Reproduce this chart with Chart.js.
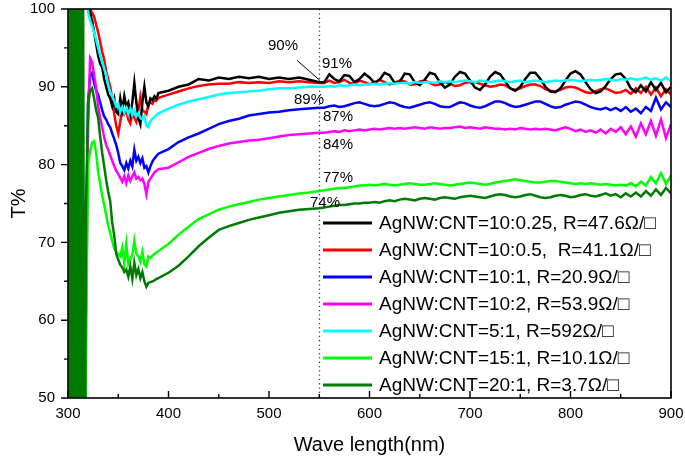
<!DOCTYPE html>
<html lang="en">
<head>
  <meta charset="UTF-8">
  <title>Transmittance</title>
  <script src="https://cdn.jsdelivr.net/npm/chart.js"></script>
  <style>
    body { margin: 0; background: #fff; }
    #chart { display: block; }
  </style>
</head>
<body>
  <canvas id="chart" width="685" height="458"></canvas>

<script>
// wavelength grid (nm) shared by all series
const waveNm = [
  317, 318, 320, 322, 324, 326, 328, 330, 332, 334, 336, 338, 340, 342, 344, 346, 348, 350, 352, 354,
  356, 358, 360, 362, 364, 366, 368, 370, 372, 374, 376, 378, 380, 382, 384, 386, 388, 390,
  400, 410, 420, 430, 440, 450, 460, 470, 480, 490, 500, 510, 520, 530, 540, 550,
  555, 560, 565, 570, 575, 580, 585, 590, 595, 600, 605, 610, 615, 620, 625, 630, 635, 640, 645, 650,
  655, 660, 665, 670, 675, 680, 685, 690, 695, 700, 705, 710, 715, 720, 725, 730, 735, 740, 745, 750,
  755, 760, 765, 770, 775, 780, 785, 790, 795, 800, 805, 810, 815, 820, 825, 830, 835, 840, 845, 850,
  855, 860, 865, 870, 875, 880, 885, 890, 895, 900
];

const tBlack = [
  105, 104, 101, 99.5, 98.5, 97, 95.5, 94, 93, 92.5, 91, 90, 89, 88.5, 87.5, 88.5, 86.8, 86.5, 88.5, 87,
  88.8, 87.5, 88, 86.5, 88, 90.5, 88, 86, 85.2, 88, 90, 88, 87.5, 88.5, 88.3, 88.8, 88.5, 89.2,
  89.5, 90, 90.3, 91, 90.8, 91.2, 91, 91.3, 91.1, 91.3, 91, 91.2, 91, 91.2, 90.9, 90.6,
  90.6, 91.6, 91.0, 90.7, 91.5, 91.4, 90.6, 91.0, 91.7, 91.2, 90.5, 90.9, 91.8, 91.5, 90.5, 90.6, 91.7, 91.6, 90.6, 90.2,
  90.9, 91.8, 91.6, 90.6, 89.9, 90.3, 91.3, 91.9, 91.7, 90.8, 89.9, 89.6, 90.3, 91.3, 91.9, 91.6, 90.7, 89.8, 89.5, 90.0,
  91.0, 91.8, 91.8, 91.0, 90.0, 89.4, 89.3, 89.8, 90.8, 91.7, 92.0, 91.6, 90.6, 89.7, 89.2, 89.4, 90.1, 91.0, 91.6, 91.7,
  91.0, 89.8, 89.3, 90.2, 89.4, 90.6, 89.6, 90.5, 89.3, 90.0
];

const tRed = [
  106, 104, 101, 100, 99.5, 99, 98, 97, 95.8, 94.5, 93.5, 92, 91, 90, 88.5, 86.5, 85, 84, 85.5, 87.2,
  86.5, 87, 85.8, 85.3, 86.5, 86, 85.5, 87, 88.7, 87, 86.8, 86.5, 87.8, 88, 87.8, 88.3, 88.2, 88.6,
  89.0, 89.4, 89.8, 90.1, 90.3, 90.4, 90.4, 90.6, 90.5, 90.6, 90.5, 90.7, 90.6, 90.7, 90.6, 90.5,
  90.5, 90.8, 90.5, 90.6, 90.9, 90.5, 90.4, 90.8, 90.6, 90.3, 90.6, 90.9, 90.6, 90.3, 90.5, 90.8, 90.7, 90.3, 90.3, 90.7,
  90.8, 90.5, 90.2, 90.3, 90.6, 90.4, 90.1, 90.2, 90.5, 90.6, 90.6, 90.4, 90.2, 90.0, 90.1, 90.3, 90.2, 89.8, 89.6, 89.8,
  90.1, 90.3, 90.3, 90.1, 89.7, 89.5, 89.4, 89.6, 89.9, 90.0, 89.9, 89.6, 89.3, 89.2, 89.4, 89.7, 89.8, 89.5, 89.2, 89.3,
  89.6, 89.1, 89.8, 89.2, 90.0, 89.0, 89.9, 88.8, 89.7, 89.0
];

const tBlue = [
  40, 70, 88, 91.5, 91.8, 90.5, 89.5, 89, 88, 87, 86.2, 85.8, 85.2, 84.8, 84, 83.3, 82.5, 81.5, 80.2, 79.8,
  79.3, 80.2, 79.5, 80.5, 79.8, 81.9, 80.5, 81, 80.2, 80.8, 79.6, 79.8, 79, 79.8, 80.4, 80.8, 81.1, 81.4,
  82.0, 82.9, 83.5, 84.0, 84.6, 85.2, 85.6, 85.9, 86.3, 86.5, 86.7, 86.8, 87.0, 87.1, 87.2, 87.3,
  87.3, 87.5, 87.6, 87.4, 87.5, 87.7, 87.9, 88.0, 87.8, 87.6, 87.5, 87.6, 87.8, 88.0, 87.9, 87.6, 87.4, 87.3, 87.5, 87.7,
  87.9, 88.0, 87.8, 87.5, 87.4, 87.4, 87.7, 88.0, 87.9, 87.6, 87.4, 87.3, 87.5, 87.8, 88.1, 88.1, 87.9, 87.6, 87.4, 87.5,
  87.7, 87.9, 88.1, 88.1, 87.8, 87.5, 87.3, 87.4, 87.7, 87.9, 88.1, 88.0, 87.7, 87.4, 87.2, 87.1, 87.3, 87.0, 87.3, 86.9,
  87.4, 86.8, 87.2, 86.6, 87.4, 86.9, 88.6, 87.1, 88.0, 87.4
];

const tMagenta = [
  40, 60, 85, 93.7, 93.2, 91.5, 89.8, 87.5, 86, 84.8, 83.5, 82.5, 81.9, 81.2, 80.5, 79.8, 79.2, 78.8, 78.3, 77.8,
  78.5, 77.6, 78.6, 77.9, 78.5, 79, 78.2, 78.4, 78, 78.2, 77.5, 76.2, 77.8, 78.2, 78.6, 79.0, 79.2, 79.4,
  79.6, 80.3, 81.0, 81.5, 82.0, 82.4, 82.7, 82.9, 83.1, 83.2, 83.4, 83.6, 83.8, 83.9, 84.0, 84.1,
  84.1, 84.2, 84.3, 84.2, 84.4, 84.3, 84.4, 84.5, 84.4, 84.5, 84.6, 84.5, 84.6, 84.7, 84.6, 84.7, 84.6, 84.7, 84.8, 84.7,
  84.6, 84.8, 84.7, 84.6, 84.7, 84.7, 84.8, 84.9, 84.7, 84.8, 84.7, 84.6, 84.8, 84.7, 84.6, 84.6, 84.5, 84.6, 84.5, 84.7,
  84.6, 84.5, 84.6, 84.5, 84.6, 84.5, 84.4, 84.6, 84.8, 84.6, 84.3, 84.5, 84.2, 84.4, 84.1, 84.5, 84.0, 84.6, 84.2, 84.8,
  83.9, 84.9, 83.6, 85.3, 83.9, 85.6, 83.7, 85.8, 83.4, 85.2
];

const tCyan = [
  104, 102, 99.5, 98.5, 97.8, 97, 96, 95, 94, 93.2, 92.3, 91.5, 90.2, 89.3, 88.8, 88.2, 87.5, 87.8, 86.8, 87.4,
  86.7, 87.3, 86.5, 87.2, 86.4, 87, 86.2, 86.6, 86, 85.8, 86.2, 85, 84.8, 85.6, 85.9, 86.1, 86.4, 86.6,
  87.2, 87.7, 88.1, 88.4, 88.7, 89.0, 89.2, 89.3, 89.4, 89.5, 89.7, 89.8, 89.8, 89.9, 90.0, 90.0,
  90.0, 90.1, 90.0, 90.2, 90.1, 90.2, 90.3, 90.2, 90.3, 90.3, 90.4, 90.3, 90.4, 90.5, 90.4, 90.5, 90.5, 90.4, 90.6, 90.5,
  90.6, 90.6, 90.5, 90.7, 90.6, 90.7, 90.6, 90.7, 90.8, 90.7, 90.6, 90.8, 90.7, 90.6, 90.7, 90.8, 90.7, 90.6, 90.7, 90.8,
  90.6, 90.7, 90.8, 90.7, 90.6, 90.7, 90.8, 90.7, 90.8, 90.9, 90.8, 90.7, 90.8, 90.9, 90.8, 90.9, 91.0, 90.9, 90.8, 91.0,
  90.9, 91.1, 90.9, 91.0, 91.2, 90.9, 91.1, 90.8, 91.2, 90.7
];

const tLime = [
  40, 60, 80, 81.7, 82.8, 83, 81.5, 79, 77.5, 76, 74.8, 73.5, 72.2, 71.2, 70.2, 69.2, 68.8, 68.5, 68.2, 69.3,
  67.3, 69.8, 67.2, 67.8, 68.4, 70.2, 68.5, 68.2, 67.5, 68.8, 67.2, 66.9, 68.2, 68.0, 68.3, 68.5, 68.7, 68.9,
  69.8, 71.0, 72.0, 73.0, 73.6, 74.2, 74.6, 74.9, 75.2, 75.5, 75.7, 75.9, 76.1, 76.3, 76.4, 76.6,
  76.7, 76.8, 76.9, 77.0, 77.0, 77.1, 77.2, 77.3, 77.3, 77.4, 77.3, 77.4, 77.5, 77.4, 77.3, 77.4, 77.5, 77.6, 77.5, 77.4,
  77.4, 77.5, 77.6, 77.5, 77.4, 77.3, 77.4, 77.5, 77.6, 77.7, 77.6, 77.5, 77.4, 77.5, 77.7, 77.8, 77.9, 78.0, 78.1, 78.0,
  77.9, 77.8, 77.7, 77.7, 77.8, 77.9, 77.9, 77.8, 77.7, 77.6, 77.5, 77.6, 77.5, 77.6, 77.5, 77.4, 77.5, 77.4, 77.3, 77.4,
  77.3, 77.6, 77.2, 77.8, 77.3, 78.4, 77.6, 78.9, 77.5, 78.6
];

const tGreen = [
  45, 75, 88, 89.5, 89.8, 88.5, 87, 86, 83.6, 81.5, 79.8, 78, 76.5, 75.3, 72.5, 70.9, 68.5, 67.8, 67.1, 66.8,
  66.2, 66.5, 65.6, 66.9, 65.3, 67.4, 65.8, 66.6, 65.4, 66.2, 65.0, 64.3, 64.8, 64.9, 65.0, 65.1, 65.3, 65.4,
  66.1, 67.0, 68.2, 69.5, 70.6, 71.6, 72.1, 72.5, 72.9, 73.2, 73.5, 73.8, 74.0, 74.2, 74.3, 74.4,
  74.5, 74.6, 74.7, 74.8, 74.8, 74.9, 75.0, 75.0, 75.1, 75.1, 75.2, 75.1, 75.3, 75.4, 75.3, 75.5, 75.6, 75.5, 75.4, 75.6,
  75.7, 75.6, 75.5, 75.7, 75.8, 75.7, 75.6, 75.8, 75.9, 76.0, 75.9, 75.8, 75.7, 75.9, 76.1, 76.2, 76.1, 75.9, 75.8, 75.9,
  76.1, 76.2, 76.0, 75.8, 75.7, 75.8, 76.0, 76.1, 76.0, 75.8, 75.9, 76.1, 76.2, 76.0, 75.9, 76.1, 76.3, 76.0, 76.2, 75.8,
  76.3, 75.9, 76.4, 75.9, 76.6, 76.0, 76.8, 76.1, 77.0, 76.3
];

// the noisy start of the 20:1 sample (300-316 nm), swinging over the whole axis
const greenHeadNm = [300, 301, 302, 303, 304, 305, 306, 307, 308, 309, 310, 311, 312, 313, 314, 315, 316];
const greenHeadT = [45, 105, 48, 104, 45, 106, 46, 105, 45, 104, 47, 105, 45, 106, 46, 105, 44];

const seriesLabels = [
  'AgNW:CNT=10:0.25, R=47.6\u03A9/\u25A1',
  'AgNW:CNT=10:0.5,  R=41.1\u03A9/\u25A1',
  'AgNW:CNT=10:1, R=20.9\u03A9/\u25A1',
  'AgNW:CNT=10:2, R=53.9\u03A9/\u25A1',
  'AgNW:CNT=5:1, R=592\u03A9/\u25A1',
  'AgNW:CNT=15:1, R=10.1\u03A9/\u25A1',
  'AgNW:CNT=20:1, R=3.7\u03A9/\u25A1'
];
const seriesColors = ['#000000', '#ff0000', '#0000ff', '#ff00ff', '#00ffff', '#00ff00', '#007a00'];
const seriesOrder = [5, 6, 4, 3, 2, 1, 0];   // lower = drawn on top

// dotted marker and the % notes next to it
const markerNm = 550;
const noteText = ['90%', '91%', '89%', '87%', '84%', '77%', '74%'];
const noteNm = [499, 552.7, 524.9, 553.7, 553.7, 553.7, 540.8];
const noteT = [95.2, 92.9, 88.35, 86.2, 82.6, 78.3, 75.1];
const leaderNm = [527.9, 550.7];
const leaderT = [93.4, 90.8];

const FONT = '"Liberation Sans", Arial, Helvetica, sans-serif';
Chart.defaults.font.family = FONT;
Chart.defaults.color = '#000';

function points(xs, ys) {
  return xs.map((x, i) => ({ x: x, y: ys[i] }));
}

const allT = [tBlack, tRed, tBlue, tMagenta, tCyan, tLime, tGreen];
const datasets = allT.map((ys, i) => {
  let data = points(waveNm, ys);
  if (i === 6) data = points(greenHeadNm, greenHeadT).concat(data);
  return {
    label: seriesLabels[i],
    data: data,
    borderColor: seriesColors[i],
    backgroundColor: seriesColors[i],
    borderWidth: 2.5,
    pointRadius: 0,
    tension: 0,
    fill: false,
    order: seriesOrder[i]
  };
});

// keep the plot box where the original has it
function noPad(s) {
  s.paddingTop = 0;
  s.paddingBottom = 0;
  s.paddingLeft = 0;
  s.paddingRight = 0;
}

const decor = {
  id: 'decor',
  beforeDatasetsDraw(chart) {
    const { ctx, chartArea: a, scales: { x } } = chart;
    ctx.save();
    ctx.strokeStyle = '#2438c8';
    ctx.lineWidth = 1.3;
    ctx.setLineDash([1.3, 3]);
    const px = Math.round(x.getPixelForValue(markerNm)) + 0.5;
    ctx.beginPath();
    ctx.moveTo(px, a.top);
    ctx.lineTo(px, a.bottom);
    ctx.stroke();
    ctx.restore();
  },
  afterDatasetsDraw(chart) {
    const { ctx, chartArea: a, scales: { x, y } } = chart;
    ctx.save();

    // frame
    ctx.strokeStyle = '#000';
    ctx.lineWidth = 1.6;
    ctx.strokeRect(a.left, a.top, a.right - a.left, a.bottom - a.top);

    // x ticks point inward, y ticks outward
    ctx.lineWidth = 1.4;
    ctx.beginPath();
    for (let v = x.min; v <= x.max; v += 50) {
      const p = x.getPixelForValue(v);
      const len = v % 100 === 0 ? 7 : 4;
      ctx.moveTo(p, a.bottom);
      ctx.lineTo(p, a.bottom - len);
    }
    for (let v = y.min; v <= y.max; v += 5) {
      const p = y.getPixelForValue(v);
      const len = v % 10 === 0 ? 7 : 4;
      ctx.moveTo(a.left, p);
      ctx.lineTo(a.left - len, p);
    }
    ctx.stroke();

    // notes
    ctx.fillStyle = '#000';
    ctx.font = '15px ' + FONT;
    ctx.textAlign = 'left';
    ctx.textBaseline = 'middle';
    noteText.forEach((t, i) => {
      ctx.fillText(t, x.getPixelForValue(noteNm[i]), y.getPixelForValue(noteT[i]));
    });
    ctx.lineWidth = 1;
    ctx.beginPath();
    ctx.moveTo(x.getPixelForValue(leaderNm[0]), y.getPixelForValue(leaderT[0]));
    ctx.lineTo(x.getPixelForValue(leaderNm[1]), y.getPixelForValue(leaderT[1]));
    ctx.stroke();

    // legend
    const lx = a.left + 255, ly = a.top + 214, rowH = 27;
    ctx.font = '19px ' + FONT;
    chart.data.datasets.forEach((ds, i) => {
      const yy = ly + i * rowH;
      ctx.strokeStyle = ds.borderColor;
      ctx.lineWidth = 3;
      ctx.beginPath();
      ctx.moveTo(lx, yy);
      ctx.lineTo(lx + 49, yy);
      ctx.stroke();
      ctx.fillStyle = '#000';
      ctx.fillText(ds.label, lx + 56, yy + 1);
    });
    ctx.restore();
  }
};

new Chart(document.getElementById('chart'), {
  type: 'line',
  data: { datasets: datasets },
  options: {
    responsive: false,
    animation: false,
    devicePixelRatio: 1,
    layout: { padding: { top: 9, right: 14, left: 0, bottom: 0 } },
    plugins: {
      legend: { display: false },
      tooltip: { enabled: false }
    },
    scales: {
      x: {
        type: 'linear',
        min: 300,
        max: 900,
        ticks: { stepSize: 100, font: { size: 15 }, padding: 7, maxRotation: 0 },
        grid: { display: false, drawTicks: false },
        border: { display: false },
        title: { display: true, text: 'Wave length(nm)', font: { size: 20 }, padding: { top: 0, bottom: 1 } },
        afterFit(s) { s.height = 60; noPad(s); }
      },
      y: {
        min: 50,
        max: 100,
        ticks: { stepSize: 10, font: { size: 15 }, padding: 13 },
        grid: { display: false, drawTicks: false },
        border: { display: false },
        title: { display: true, text: 'T%', font: { size: 20 }, padding: { top: 7, bottom: 0 } },
        afterFit(s) { s.width = 68; noPad(s); }
      }
    }
  },
  plugins: [decor]
});
</script>
</body>
</html>
